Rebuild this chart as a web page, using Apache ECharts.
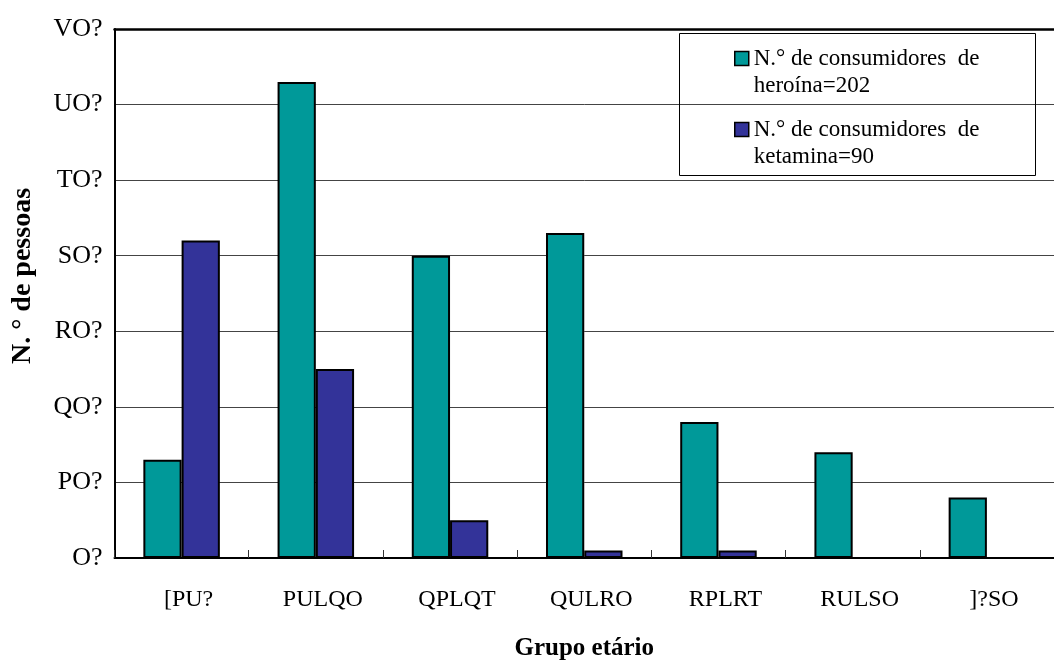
<!DOCTYPE html>
<html>
<head>
<meta charset="utf-8">
<script src="https://cdn.jsdelivr.net/npm/echarts@6/dist/echarts.min.js"></script>
<style>
html,body{margin:0;padding:0;background:#fff;}
#chart{width:1054px;height:666px;}
</style>
</head>
<body>
<div id="chart"></div>
<script>
// Age groups (as printed in the reference, with its substituted glyphs)
const categories = ['[PU?', 'PULQO', 'QPLQT', 'QULRO', 'RPLRT', 'RULSO', ']?SO'];
// Value axis tick labels (as printed: 0,10,...,70)
const yTickLabels = ['O?', 'PO?', 'QO?', 'RO?', 'SO?', 'TO?', 'UO?', 'VO?'];
const heroinName = 'N.° de consumidores  de\nheroína=202';
const ketamineName = 'N.° de consumidores  de\nketamina=90';
const heroin = [13, 63, 40, 43, 18, 14, 8];
const ketamine = [42, 25, 5, 1, 1, 0, 0];

const chart = echarts.init(document.getElementById('chart'));
const serif = '"Liberation Serif", "Times New Roman", serif';

chart.setOption({
  animation: false,
  backgroundColor: '#fff',
  grid: { left: 114.5, right: -8, top: 29, bottom: 106, containLabel: false },
  legend: {
    orient: 'vertical',
    left: 734,
    top: 18,
    padding: 0,
    itemGap: -10,
    itemWidth: 14,
    itemHeight: 14,
    icon: 'rect',
    data: [heroinName, ketamineName],
    formatter: function (n) { return '\n' + n; },
    textStyle: { fontFamily: serif, fontSize: 23, color: '#000', lineHeight: 27, padding: [0, 0, 0, 0] },
    itemStyle: { borderColor: '#000', borderWidth: 1.5 }
  },
  graphic: [{
    type: 'rect', z: 10,
    shape: { x: 679.5, y: 33.5, width: 356, height: 142 },
    style: { fill: 'none', stroke: '#000', lineWidth: 1 }
  }],
  xAxis: [{
    type: 'category',
    data: categories,
    name: 'Grupo etário',
    nameLocation: 'middle',
    nameGap: 78,
    nameTextStyle: { fontFamily: serif, fontSize: 25, fontWeight: 'bold', color: '#000' },
    axisLine: { lineStyle: { color: '#000', width: 2 } },
    axisTick: { show: true, inside: true, length: 8, lineStyle: { color: '#333', width: 1 } },
    axisLabel: { fontFamily: serif, fontSize: 24, color: '#000', margin: 30, padding: [0, 0, 0, 14] },
    splitLine: { show: false }
  }, {
    type: 'category',
    position: 'top',
    data: categories,
    axisLine: { show: true, lineStyle: { color: '#000', width: 2.5 } },
    axisTick: { show: false },
    axisLabel: { show: false }
  }],
  yAxis: {
    type: 'value',
    min: 0, max: 70, interval: 10,
    name: '     N. ° de pessoas',
    nameLocation: 'middle',
    nameGap: 78,
    nameTextStyle: { fontFamily: serif, fontSize: 28, fontWeight: 'bold', color: '#000' },
    axisLine: { show: true, lineStyle: { color: '#000', width: 2 } },
    axisTick: { show: false },
    axisLabel: {
      fontFamily: serif, fontSize: 26, color: '#000', margin: 12,
      formatter: function (v) { return yTickLabels[Math.round(v / 10)]; }
    },
    splitLine: { lineStyle: { color: '#444', width: 1 } }
  },
  series: [{
    name: heroinName,
    type: 'bar',
    data: heroin,
    barGap: '0%',
    barCategoryGap: '43%',
    itemStyle: { color: '#009999', borderColor: '#000', borderWidth: 2 }
  }, {
    name: ketamineName,
    type: 'bar',
    data: ketamine,
    itemStyle: { color: '#333399', borderColor: '#000', borderWidth: 2 }
  }]
});
</script>
</body>
</html>
